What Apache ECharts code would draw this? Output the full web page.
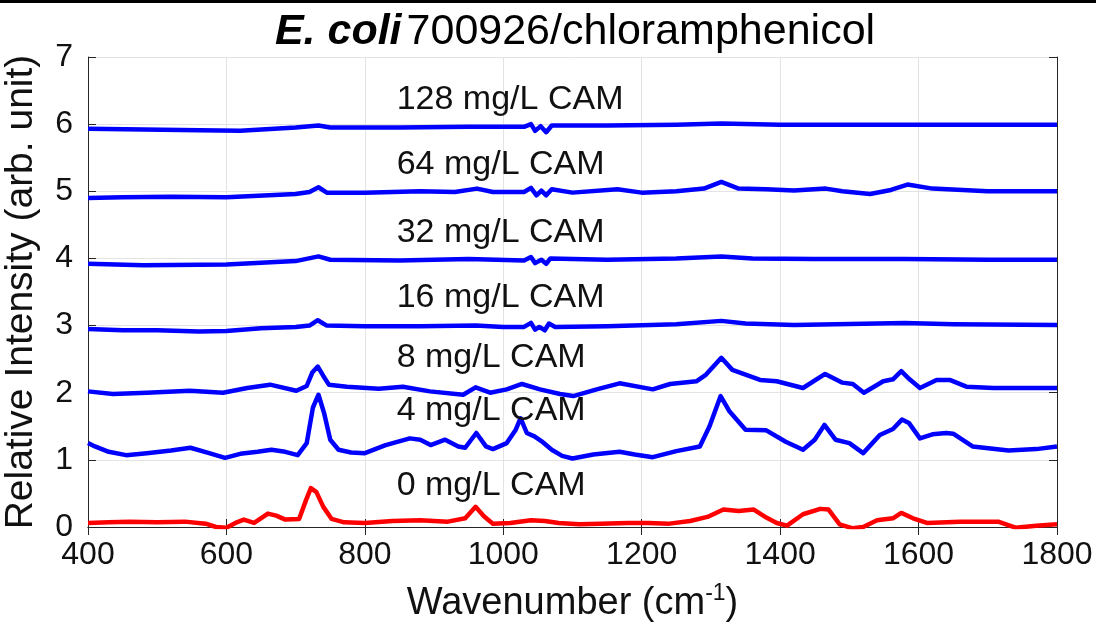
<!DOCTYPE html>
<html>
<head>
<meta charset="utf-8">
<script src="https://cdn.jsdelivr.net/npm/echarts@6/dist/echarts.min.js"></script>
<style>
  html, body { margin: 0; padding: 0; background: #fff; }
  #chart { width: 1096px; height: 628px; }
</style>
</head>
<body>
<div id="chart"></div>
<script>
// Raman spectra of E. coli 700926 under chloramphenicol (CAM), offset by concentration
const xTicks = [400, 600, 800, 1000, 1200, 1400, 1600, 1800];
const yTicks = [0, 1, 2, 3, 4, 5, 6, 7];

const spec0 = [[400,0.06],[430,0.07],[460,0.08],[500,0.07],[540,0.08],[570,0.05],[585,0.0],[600,-0.01],[615,0.07],[625,0.11],[640,0.06],[660,0.2],[672,0.17],[685,0.11],[705,0.12],[715,0.4],[722,0.58],[730,0.52],[740,0.3],[752,0.12],[770,0.07],[800,0.06],[840,0.09],[880,0.1],[920,0.08],[945,0.13],[960,0.3],[972,0.16],[985,0.05],[1010,0.06],[1040,0.1],[1060,0.09],[1080,0.06],[1110,0.04],[1140,0.05],[1180,0.06],[1210,0.06],[1240,0.05],[1270,0.09],[1295,0.15],[1318,0.26],[1340,0.24],[1362,0.26],[1380,0.14],[1395,0.06],[1410,0.02],[1433,0.19],[1458,0.27],[1470,0.26],[1486,0.04],[1505,-0.02],[1520,0.0],[1540,0.1],[1563,0.13],[1575,0.21],[1592,0.13],[1612,0.06],[1660,0.08],[1715,0.08],[1740,-0.01],[1770,0.02],[1800,0.04]];

const spec4 = [[400,1.25],[410,1.2],[430,1.12],[455,1.07],[485,1.1],[520,1.14],[548,1.18],[575,1.1],[598,1.03],[620,1.09],[645,1.12],[665,1.15],[685,1.12],[703,1.07],[716,1.25],[725,1.78],[733,1.97],[741,1.7],[750,1.3],[762,1.15],[780,1.11],[800,1.1],[830,1.22],[865,1.32],[880,1.3],[895,1.22],[916,1.3],[935,1.2],[945,1.18],[961,1.4],[975,1.2],[985,1.16],[1005,1.25],[1018,1.45],[1025,1.62],[1034,1.4],[1045,1.35],[1055,1.28],[1070,1.15],[1085,1.06],[1100,1.02],[1130,1.08],[1168,1.12],[1190,1.08],[1216,1.04],[1250,1.13],[1284,1.2],[1298,1.5],[1314,1.95],[1327,1.72],[1350,1.45],[1380,1.44],[1408,1.27],[1433,1.15],[1450,1.3],[1464,1.52],[1480,1.3],[1500,1.25],[1520,1.1],[1544,1.37],[1563,1.46],[1576,1.6],[1586,1.55],[1602,1.32],[1620,1.38],[1640,1.4],[1650,1.39],[1678,1.2],[1730,1.14],[1770,1.16],[1800,1.2]];

const spec8 = [[400,2.02],[436,1.98],[485,2.0],[547,2.03],[595,2.0],[630,2.07],[663,2.12],[701,2.03],[716,2.1],[724,2.3],[732,2.39],[740,2.25],[748,2.12],[774,2.09],[820,2.06],[855,2.09],[894,2.02],[942,1.97],[960,2.08],[981,2.0],[1005,2.05],[1027,2.13],[1053,2.05],[1082,1.98],[1101,1.95],[1135,2.05],[1168,2.14],[1216,2.05],[1241,2.13],[1279,2.17],[1293,2.27],[1315,2.52],[1331,2.34],[1371,2.19],[1395,2.17],[1433,2.07],[1465,2.28],[1490,2.15],[1505,2.13],[1521,2.0],[1549,2.17],[1563,2.2],[1575,2.32],[1587,2.2],[1602,2.07],[1626,2.19],[1645,2.19],[1669,2.09],[1708,2.07],[1800,2.07]];

const spec16 = [[400,2.95],[450,2.93],[500,2.93],[560,2.91],[600,2.92],[650,2.96],[700,2.98],[720,3.0],[732,3.08],[745,3.0],[800,2.99],[880,2.99],[960,3.0],[1000,2.98],[1030,2.98],[1040,3.04],[1046,2.94],[1052,2.98],[1060,2.93],[1066,3.03],[1075,2.98],[1150,2.99],[1250,3.02],[1315,3.07],[1350,3.03],[1420,3.01],[1480,3.02],[1580,3.04],[1650,3.02],[1800,3.01]];

const spec32 = [[400,3.92],[480,3.9],[600,3.91],[700,3.96],[733,4.03],[750,3.98],[850,3.97],[950,3.99],[1030,3.97],[1040,4.02],[1046,3.93],[1055,3.98],[1062,3.92],[1068,4.0],[1150,3.98],[1250,4.0],[1315,4.03],[1360,4.0],[1450,3.99],[1580,3.99],[1700,3.98],[1800,3.98]];

const spec64 = [[400,4.9],[450,4.91],[520,4.92],[600,4.91],[700,4.96],[720,4.99],[733,5.06],[745,4.98],[800,4.98],[880,5.0],[930,4.99],[962,5.04],[985,4.99],[1030,4.99],[1040,5.05],[1048,4.94],[1055,5.01],[1062,4.94],[1070,5.03],[1100,4.98],[1165,5.03],[1200,4.98],[1250,5.0],[1290,5.04],[1315,5.14],[1340,5.04],[1380,5.03],[1420,5.01],[1466,5.04],[1490,5.0],[1530,4.96],[1560,5.02],[1584,5.1],[1620,5.04],[1700,5.0],[1800,5.0]];

const spec128 = [[400,5.93],[480,5.92],[560,5.91],[620,5.9],[700,5.95],[733,5.98],[750,5.95],[850,5.95],[950,5.96],[1030,5.96],[1040,6.0],[1046,5.9],[1054,5.97],[1062,5.88],[1070,5.98],[1150,5.98],[1250,5.99],[1315,6.01],[1400,5.99],[1500,5.99],[1600,5.99],[1800,5.99]];

const seriesNames = ['0 mg/L CAM', '4 mg/L CAM', '8 mg/L CAM', '16 mg/L CAM', '32 mg/L CAM', '64 mg/L CAM', '128 mg/L CAM'];
const seriesData = [spec0, spec4, spec8, spec16, spec32, spec64, spec128];
const seriesColors = ['#ff0000', '#0000ff', '#0000ff', '#0000ff', '#0000ff', '#0000ff', '#0000ff'];
// label anchor for each trace name, in axis units
const labelAnchors = [[846, 0.61], [846, 1.74], [846, 2.52], [846, 3.41], [846, 4.38], [846, 5.39], [846, 6.36]];

const FONT = 'Liberation Sans, Arial, Helvetica, sans-serif';
const AX = '#262626';
const TXT = '#111';

const chart = echarts.init(document.getElementById('chart'), null, { renderer: 'canvas' });

const tickAxisCommon = {
  axisLine: { show: true, lineStyle: { color: AX, width: 1 } },
  axisTick: { show: true, inside: true, length: 8, lineStyle: { color: AX, width: 1 } },
  splitLine: { show: false },
  axisLabel: { show: false }
};

const topBar = {
  type: 'rect', left: 0, top: 0,
  shape: { width: 1096, height: 3 },
  style: { fill: '#000' }, silent: true
};

chart.setOption({
  backgroundColor: '#fff',
  animation: false,
  title: {
    text: '{b|E. coli} {n|700926/chloramphenicol}',
    left: 570, top: 6, textAlign: 'center',
    textStyle: {
      fontWeight: 'normal',
      rich: {
        b: { fontFamily: FONT, fontSize: 43, fontWeight: 'bold', fontStyle: 'italic', color: '#000' },
        n: { fontFamily: FONT, fontSize: 43, fontWeight: 'normal', color: '#000' }
      }
    }
  },
  grid: { left: 88, right: 39, top: 57, bottom: 101, containLabel: false, outerBoundsMode: 'none' },
  xAxis: [{
    type: 'value', min: 400, max: 1800, interval: 200,
    position: 'bottom',
    name: '{a|Wavenumber (cm}{s|-1}{a|)}',
    nameLocation: 'middle', nameGap: 55,
    nameTextStyle: {
      rich: {
        a: { fontFamily: FONT, fontSize: 38, color: TXT },
        s: { fontFamily: FONT, fontSize: 23, color: TXT, padding: [0, 0, 20, 0] }
      }
    },
    axisLine: { show: true, lineStyle: { color: AX, width: 1 } },
    axisTick: { show: true, inside: true, length: 8, lineStyle: { color: AX } },
    axisLabel: { fontFamily: FONT, fontSize: 32, color: TXT, margin: 12,
      formatter: v => xTicks.includes(v) ? String(v) : '' },
    splitLine: { show: true, lineStyle: { color: '#e3e3e3', width: 1 } }
  }, Object.assign({
    type: 'value', min: 400, max: 1800, interval: 200, position: 'top'
  }, tickAxisCommon)],
  yAxis: [{
    type: 'value', min: 0, max: 7, interval: 1,
    position: 'left',
    name: 'Relative Intensity (arb. unit)',
    nameLocation: 'middle', nameGap: 47,
    nameTextStyle: { fontFamily: FONT, fontSize: 39, color: TXT },
    axisLine: { show: true, lineStyle: { color: AX, width: 1 } },
    axisTick: { show: true, inside: true, length: 8, lineStyle: { color: AX } },
    axisLabel: { fontFamily: FONT, fontSize: 32, color: TXT, margin: 15,
      formatter: v => yTicks.includes(v) ? String(v) : '' },
    splitLine: { show: true, lineStyle: { color: '#e3e3e3', width: 1 } }
  }, Object.assign({
    type: 'value', min: 0, max: 7, interval: 1, position: 'right'
  }, tickAxisCommon)],
  series: seriesData.map((d, i) => ({
    name: seriesNames[i],
    type: 'line',
    data: d,
    xAxisIndex: 0, yAxisIndex: 0,
    showSymbol: false,
    symbol: 'none',
    smooth: false,
    lineStyle: { color: seriesColors[i], width: 4.5, join: 'round' },
    z: 3
  })),
  graphic: [topBar]
});

// trace names placed at their axis-unit anchors
const labelGraphics = seriesNames.map((name, i) => {
  const p = chart.convertToPixel({ gridIndex: 0 }, labelAnchors[i]);
  return {
    type: 'text', x: p[0], y: p[1], z: 10,
    style: { text: name, font: '34px ' + FONT, fill: TXT, verticalAlign: 'middle', align: 'left' }
  };
});
chart.setOption({ graphic: [topBar].concat(labelGraphics) });
</script>
</body>
</html>
